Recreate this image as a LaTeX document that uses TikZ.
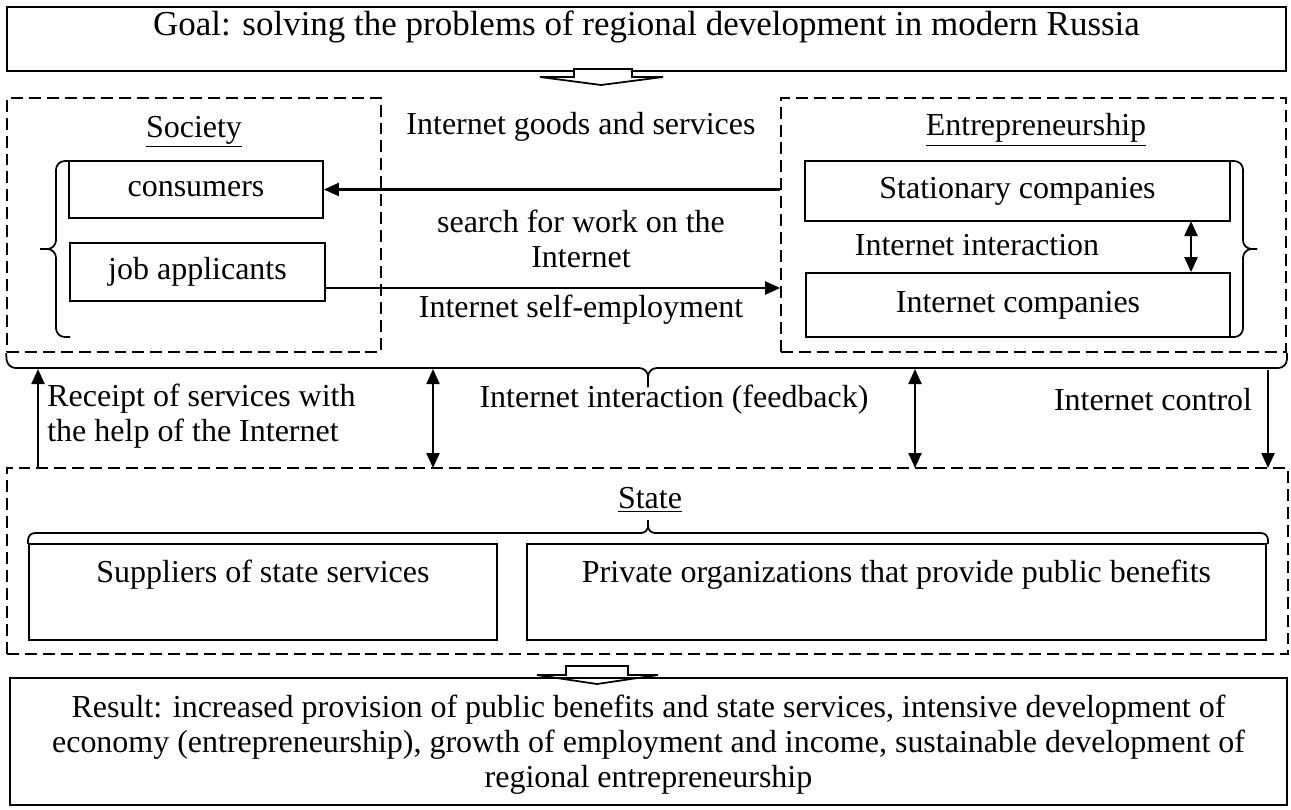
\documentclass[tikz,border=0pt]{standalone}
\usepackage{fontspec}
\setmainfont{Liberation Serif}
\usetikzlibrary{calc, positioning, arrows.meta}
\tikzstyle{box}=[draw, line width=1pt, inner sep=0pt]
\tikzstyle{dbox}=[draw, line width=0.95pt, dash pattern=on 6.8pt off 3.4pt, inner sep=0pt]
\tikzstyle{txt}=[inner sep=0pt, align=center]
\tikzstyle{arr}=[line width=1.3pt, -{Triangle[length=0.3cm,width=0.26cm]}]
\tikzstyle{darr}=[line width=1.3pt, {Triangle[length=0.3cm,width=0.26cm]}-{Triangle[length=0.3cm,width=0.26cm]}]
\tikzstyle{brc}=[line width=1pt, rounded corners=5pt]
\tikzstyle{hollow}=[line width=1pt, fill=white]

\begin{document}
\begin{tikzpicture}[x=0.2mm, y=-0.2mm, font=\fontsize{18.2}{19.9}\selectfont]
\useasboundingbox (0,0) rectangle (1291,809);
% goal
\node [box, minimum width=25.58cm, minimum height=1.28cm] (goal) at (646.5,39){};
\node [txt, font=\fontsize{19.9}{22}\selectfont] (goaltxt) at (646.5,27) {Goal: solving the problems of regional development in modern Russia};
\draw [hollow] (574,69) -- (574,77) -- (540,77) -- (601,85) -- (663,77) -- (632,77) -- (632,69) -- cycle;
% society and entrepreneurship
\node [dbox, minimum width=7.48cm, minimum height=5.08cm] (soc) at (194,225){};
\node [dbox, minimum width=10.1cm, minimum height=5.08cm] (ent) at (1033.5,225){};
\node [txt] (soctxt) at (194,132) {\underline{Society}};
\node [txt] (enttxt) at (1036,130) {\underline{Entrepreneurship}};
\node [box, minimum width=5.08cm, minimum height=1.14cm] (cons) at (196,189.5) {consumers};
\node [box, minimum width=5.1cm, minimum height=1.16cm] (jobs) at (197.5,272) {job applicants};
\node [box, minimum width=8.5cm, minimum height=1.2cm] (stat) at (1017.5,191) {Stationary companies};
\node [box, minimum width=8.48cm, minimum height=1.28cm] (inet) at (1018,305) {Internet companies};
\node [txt] (goods) at (581,127) {Internet goods and services};
\node [txt] (search) at (581,238.5) {search for work on the\\Internet};
\node [txt] (self) at (581,310) {Internet self-employment};
\node [txt] (inter) at (977,245) {Internet interaction};
\coordinate (j1) at (325,288); \coordinate (ii) at (1191,221);
\draw [arr] (ent.west |- cons.east) -- (cons.east);
\draw [arr] (j1) -- (j1 -| ent.west);
\draw [darr] (ii) -- (ii |- inet.north);
% braces
\draw [brc] (70,161) -- (56,161) -- (56,249) -- (40,249);
\draw [brc] (70,337) -- (56,337) -- (56,249) -- (40,249);
\draw [brc] (1230,161) -- (1243,161) -- (1243,249) -- (1257,249);
\draw [brc] (1230,337) -- (1243,337) -- (1243,249) -- (1257,249);
\draw [brc] (soc.south west) -- (7,368) -- (648,368) -- (648,387);
\draw [brc] (ent.south east) -- (1287,368) -- (648,368) -- (648,387);
% state
\node [dbox, minimum width=25.62cm, minimum height=3.72cm] (state) at (647.5,561){};
\node [txt] (statetxt) at (650,500) {\underline{State}};
\node [box, minimum width=9.36cm, minimum height=1.92cm] (sup) at (263,592){};
\node [box, minimum width=14.78cm, minimum height=1.92cm] (priv) at (896.5,592){};
\node [txt] (suptxt) at (263,575) {Suppliers of state services};
\node [txt] (privtxt) at (896.5,575) {Private organizations that provide public benefits};
\draw [brc, rounded corners=4pt] (28,544) -- (28,533) -- (648,533) -- (648,520);
\draw [brc, rounded corners=4pt] (1268,544) -- (1268,533) -- (648,533) -- (648,520);
% links between the blocks
\draw [arr] (38,468) -- (38,369);
\draw [darr] (433,369) -- (433,468);
\draw [darr] (915,369) -- (915,468);
\draw [arr] (1268,370) -- (1268,468);
\node [txt, anchor=west, align=left] (receipt) at (47,416.5) {Receipt of services with\\the help of the Internet};
\node [txt] (feed) at (674,400) {Internet interaction (feedback)};
\node [txt] (ctrl) at (1153,400) {Internet control};
% result
\draw [hollow] (566,666) -- (566,675) -- (537,675) -- (597,684) -- (658,675) -- (628,675) -- (628,666) -- cycle;
\node [box, minimum width=25.54cm, minimum height=2.54cm] (res) at (648.5,741.5){};
\node [txt] (restxt) at (648.5,745) {Result: increased provision of public benefits and state services, intensive development of\\economy (entrepreneurship), growth of employment and income, sustainable development of\\regional entrepreneurship};
\end{tikzpicture}
\end{document}
